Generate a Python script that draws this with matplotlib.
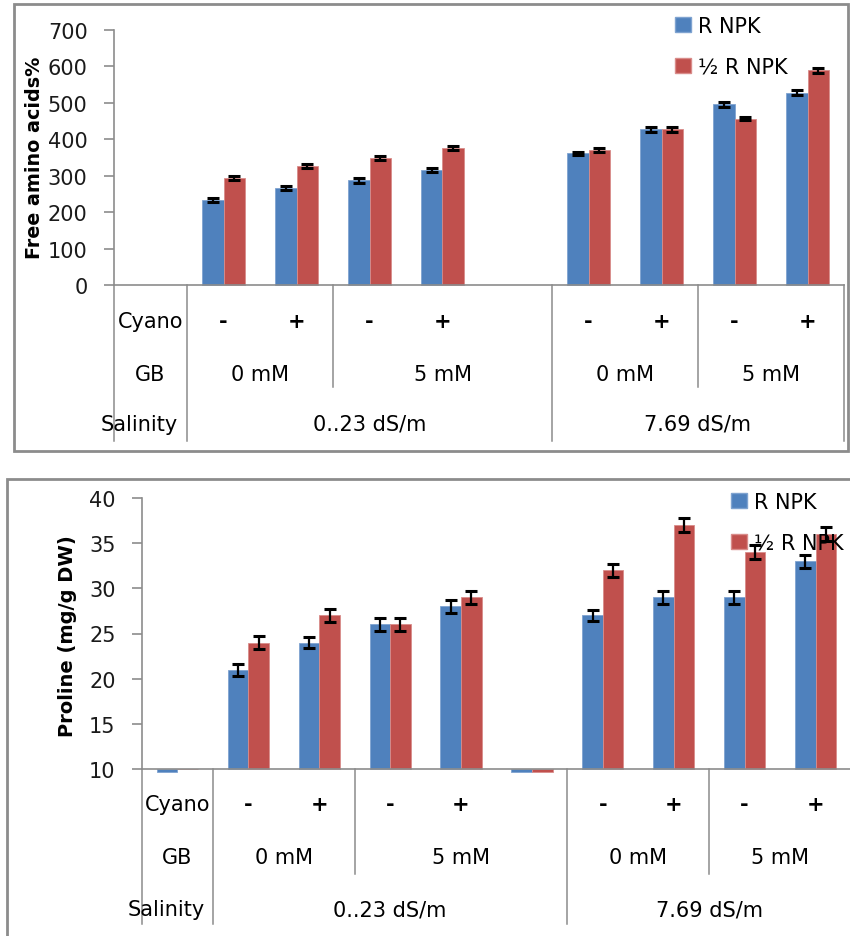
import numpy as np
import matplotlib
matplotlib.use("Agg")
import matplotlib.pyplot as plt
from matplotlib.patches import Rectangle, Patch

plt.rcParams['font.family'] = ['DejaVu Sans']

# categories: 0 = label column, 5 = empty gap between salinity levels
cyano = ['', '-', '+', '-', '+', '', '-', '+', '-', '+']
gb_labels = ['0 mM', '5 mM', '0 mM', '5 mM']
gb_centers = [1.5, 4.0, 6.5, 8.5]
sal_labels = ['0..23 dS/m', '7.69 dS/m']
sal_centers = [3.0, 7.5]
series_names = ['R NPK', '\u00bd R NPK']

# free amino acids (%)
amino_r = [np.nan, 234, 266, 287, 316, np.nan, 361, 428, 496, 528]
amino_half = [np.nan, 294, 327, 348, 376, np.nan, 371, 428, 457, 589]
amino_r_err = [0, 6, 6, 6, 6, 0, 4, 7, 7, 7]
amino_half_err = [0, 5, 6, 6, 6, 0, 6, 7, 5, 6]

# proline (mg/g DW)
prol_r = [9.7, 21, 24, 26, 28, 9.7, 27, 29, 29, 33]
prol_half = [10, 24, 27, 26, 29, 9.7, 32, 37, 34, 36]
prol_r_err = [0, 0.65, 0.65, 0.7, 0.7, 0, 0.6, 0.7, 0.7, 0.7]
prol_half_err = [0, 0.75, 0.75, 0.7, 0.7, 0, 0.7, 0.75, 0.8, 0.75]

BLUE = '#4F81BD'
RED = '#C0504D'
GRID = '#8C8C8C'
FS = 15

W, H = 850, 937
fig = plt.figure(figsize=(W / 100, H / 100), dpi=100)


def px_axes(left, top, right, bottom):
    return fig.add_axes([left / W, 1 - bottom / H, (right - left) / W, (bottom - top) / H])


def draw_panel(ax, vals_a, vals_b, err_a, err_b, base, ylim, yticks, ylabel, ylabel_fs,
               rows_y, long_end, mid_end, label_xy):
    x = np.arange(len(cyano))
    bw = 0.29
    va = np.array(vals_a, float)
    vb = np.array(vals_b, float)
    ax.bar(x - bw / 2, va - base, bw, bottom=base, color=BLUE, edgecolor='#7FA3D0',
           linewidth=0.6, clip_on=False, zorder=2)
    ax.bar(x + bw / 2, vb - base, bw, bottom=base, color=RED, edgecolor='#D98C8A',
           linewidth=0.6, clip_on=False, zorder=2)
    ea = np.array(err_a, float)
    eb = np.array(err_b, float)
    m = ea > 0
    ax.errorbar(x[m] - bw / 2, va[m], yerr=ea[m], fmt='none', ecolor='black',
                elinewidth=1.6, capsize=4.5, capthick=2.2, zorder=4)
    m = eb > 0
    ax.errorbar(x[m] + bw / 2, vb[m], yerr=eb[m], fmt='none', ecolor='black',
                elinewidth=1.6, capsize=4.5, capthick=2.2, zorder=4)

    ax.set_xlim(-0.5, len(cyano) - 0.5)
    ax.set_ylim(*ylim)
    ax.set_yticks(yticks)
    ax.set_xticks([])
    for s in ['top', 'right']:
        ax.spines[s].set_visible(False)
    for s in ['left', 'bottom']:
        ax.spines[s].set_color(GRID)
        ax.spines[s].set_linewidth(1.2)
    ax.tick_params(axis='y', length=7, width=1.2, color=GRID, pad=12, labelsize=FS,
                   labelcolor='#1a1a1a')
    ax.set_ylabel(ylabel, fontsize=ylabel_fs, fontweight='bold', labelpad=0)
    ax.yaxis.set_label_coords(label_xy[0] / W, 1 - label_xy[1] / H, transform=fig.transFigure)

    tr = ax.get_xaxis_transform()
    # separators of the multi-level category axis
    for xv in [-0.5, 0.5, 5.5, 9.5]:
        ax.plot([xv, xv], [0, long_end], transform=tr, color=GRID, lw=1.1, clip_on=False)
    for xv in [2.5, 7.5]:
        ax.plot([xv, xv], [0, mid_end], transform=tr, color=GRID, lw=1.1, clip_on=False)

    ax.text(0, rows_y[0], 'Cyano', transform=tr, ha='center', va='center', fontsize=FS)
    ax.text(0, rows_y[1], 'GB', transform=tr, ha='center', va='center', fontsize=FS)
    ax.text(0.38, rows_y[2], 'Salinity', transform=tr, ha='right', va='center', fontsize=FS)
    for i, c in enumerate(cyano):
        if c:
            ax.text(i, rows_y[0], c, transform=tr, ha='center', va='center',
                    fontsize=FS, fontweight='bold')
    for c, lab in zip(gb_centers, gb_labels):
        ax.text(c, rows_y[1], lab, transform=tr, ha='center', va='center', fontsize=FS)
    for c, lab in zip(sal_centers, sal_labels):
        ax.text(c, rows_y[2], lab, transform=tr, ha='center', va='center', fontsize=FS)


handles = [Patch(facecolor=BLUE, edgecolor='#7FA3D0'), Patch(facecolor=RED, edgecolor='#D98C8A')]
leg_kw = dict(loc='upper left', bbox_transform=fig.transFigure, frameon=False, borderpad=0,
              borderaxespad=0, handlelength=0.75, handleheight=0.75, handletextpad=0.35,
              labelspacing=1.0, fontsize=FS)

# top panel
ax1 = px_axes(114, 31, 844, 286)
draw_panel(ax1, amino_r, amino_half, amino_r_err, amino_half_err, 0,
           (0, 700), np.arange(0, 701, 100), 'Free amino acids%', 13.8,
           [-0.141, -0.349, -0.545], -0.612, -0.400, (44, 158))
ax1.legend(handles, series_names, bbox_to_anchor=(675 / W, 1 - 17 / H), **leg_kw)

# bottom panel
ax2 = px_axes(142, 499, 851, 770)
draw_panel(ax2, prol_r, prol_half, prol_r_err, prol_half_err, 10,
           (10, 40), np.arange(10, 41, 5), 'Proline (mg/g DW)', 14,
           [-0.129, -0.325, -0.517], -0.572, -0.387, (77, 636))
leg2 = ax2.legend(handles, series_names, bbox_to_anchor=(731 / W, 1 - 493 / H), **leg_kw)
leg2.set_zorder(3)

# chart borders
fig.patches.append(Rectangle((14 / W, 1 - 452 / H), (848 - 14) / W, (452 - 5) / H,
                             transform=fig.transFigure, fill=False, edgecolor='#8C8C8C', lw=2))
fig.patches.append(Rectangle((7 / W, 1 - 945 / H), (870 - 7) / W, (945 - 480) / H,
                             transform=fig.transFigure, fill=False, edgecolor='#8C8C8C', lw=2))

fig.savefig('out.png', dpi=100)
